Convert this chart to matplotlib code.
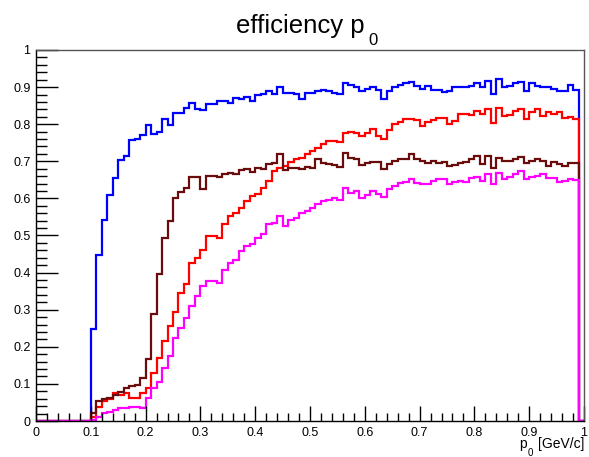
import numpy as np
import matplotlib.pyplot as plt
from matplotlib.ticker import MultipleLocator, FuncFormatter

plt.rcParams['font.family'] = ['Liberation Sans', 'DejaVu Sans']

# bin edges: 100 bins from 0 to 1
n_bins = 100
edges = np.linspace(0.0, 1.0, n_bins + 1)

# efficiency per bin (bins 0..9 are empty)
eff_blue = [0.0] * 10 + [
    0.249, 0.447, 0.543, 0.609, 0.654, 0.703, 0.715, 0.757, 0.759, 0.771,
    0.798, 0.773, 0.780, 0.813, 0.798, 0.829, 0.831, 0.845, 0.856, 0.841,
    0.838, 0.854, 0.854, 0.863, 0.863, 0.856, 0.870, 0.868, 0.874, 0.863,
    0.879, 0.881, 0.890, 0.881, 0.899, 0.883, 0.885, 0.881, 0.868, 0.883,
    0.885, 0.890, 0.892, 0.890, 0.883, 0.881, 0.910, 0.906, 0.899, 0.890,
    0.895, 0.901, 0.892, 0.868, 0.890, 0.899, 0.906, 0.910, 0.913, 0.903,
    0.895, 0.903, 0.892, 0.892, 0.886, 0.890, 0.899, 0.901, 0.899, 0.904,
    0.910, 0.901, 0.917, 0.881, 0.922, 0.899, 0.904, 0.910, 0.915, 0.890,
    0.910, 0.904, 0.899, 0.899, 0.895, 0.890, 0.890, 0.906, 0.892, 0.0]

eff_red = [0.0] * 10 + [
    0.012, 0.039, 0.054, 0.059, 0.075, 0.070, 0.075, 0.061, 0.063, 0.075,
    0.088, 0.129, 0.169, 0.216, 0.255, 0.295, 0.345, 0.369, 0.426, 0.440,
    0.462, 0.498, 0.498, 0.494, 0.530, 0.552, 0.561, 0.575, 0.593, 0.606,
    0.611, 0.627, 0.647, 0.674, 0.683, 0.687, 0.699, 0.705, 0.710, 0.719,
    0.728, 0.737, 0.746, 0.755, 0.756, 0.753, 0.777, 0.780, 0.777, 0.768,
    0.777, 0.786, 0.768, 0.759, 0.784, 0.800, 0.805, 0.814, 0.814, 0.811,
    0.796, 0.807, 0.811, 0.816, 0.818, 0.800, 0.808, 0.827, 0.827, 0.825,
    0.836, 0.827, 0.841, 0.802, 0.845, 0.823, 0.825, 0.836, 0.841, 0.814,
    0.832, 0.841, 0.823, 0.832, 0.827, 0.832, 0.816, 0.820, 0.814, 0.0]

eff_brown = [0.0] * 10 + [
    0.022, 0.054, 0.059, 0.063, 0.070, 0.079, 0.088, 0.095, 0.097, 0.115,
    0.167, 0.288, 0.395, 0.494, 0.539, 0.600, 0.617, 0.629, 0.658, 0.658,
    0.626, 0.661, 0.660, 0.658, 0.665, 0.669, 0.666, 0.676, 0.678, 0.672,
    0.683, 0.678, 0.692, 0.696, 0.719, 0.676, 0.681, 0.681, 0.678, 0.684,
    0.681, 0.705, 0.696, 0.693, 0.690, 0.685, 0.723, 0.710, 0.705, 0.690,
    0.696, 0.699, 0.699, 0.678, 0.694, 0.701, 0.705, 0.705, 0.719, 0.705,
    0.701, 0.696, 0.701, 0.696, 0.699, 0.687, 0.691, 0.696, 0.699, 0.705,
    0.714, 0.694, 0.714, 0.683, 0.710, 0.701, 0.701, 0.705, 0.712, 0.696,
    0.701, 0.705, 0.701, 0.687, 0.699, 0.694, 0.687, 0.696, 0.696, 0.0]

eff_magenta = [0.0] * 10 + [
    0.003, 0.012, 0.021, 0.025, 0.030, 0.034, 0.036, 0.039, 0.039, 0.034,
    0.061, 0.088, 0.106, 0.142, 0.174, 0.223, 0.250, 0.277, 0.309, 0.336,
    0.363, 0.378, 0.377, 0.372, 0.408, 0.426, 0.435, 0.458, 0.471, 0.476,
    0.494, 0.503, 0.530, 0.534, 0.552, 0.525, 0.543, 0.548, 0.561, 0.566,
    0.575, 0.584, 0.593, 0.597, 0.602, 0.595, 0.629, 0.615, 0.620, 0.602,
    0.609, 0.620, 0.611, 0.604, 0.624, 0.633, 0.642, 0.645, 0.651, 0.642,
    0.640, 0.640, 0.647, 0.651, 0.651, 0.638, 0.645, 0.647, 0.645, 0.656,
    0.658, 0.647, 0.665, 0.638, 0.669, 0.651, 0.658, 0.665, 0.674, 0.651,
    0.658, 0.660, 0.665, 0.656, 0.656, 0.645, 0.647, 0.651, 0.649, 0.0]

series = [eff_blue, eff_red, eff_brown, eff_magenta]
colors = ['#0000ff', '#ff0000', '#6b0c0c', '#ff00ff']

W, H = 589, 457
fig = plt.figure(figsize=(W / 100, H / 100), dpi=100)
ax = fig.add_axes([36 / W, 36 / H, 548 / W, 371 / H])

for vals, c in zip(series, colors):
    ax.stairs(vals, edges, baseline=0, color=c, linewidth=1.6)

ax.set_xlim(0, 1)
ax.set_ylim(0, 1)

fmt = FuncFormatter(lambda v, p: ('%.1f' % v).rstrip('0').rstrip('.'))
ax.xaxis.set_major_locator(MultipleLocator(0.1))
ax.xaxis.set_minor_locator(MultipleLocator(0.02))
ax.yaxis.set_major_locator(MultipleLocator(0.1))
ax.yaxis.set_minor_locator(MultipleLocator(0.02))
ax.xaxis.set_major_formatter(fmt)
ax.yaxis.set_major_formatter(fmt)

ax.tick_params(axis='x', which='major', direction='in', length=11, width=1, pad=4, labelsize=9)
ax.tick_params(axis='x', which='minor', direction='in', length=5.5, width=1)
ax.tick_params(axis='y', which='major', direction='in', length=16, width=1, pad=4, labelsize=9)
ax.tick_params(axis='y', which='minor', direction='in', length=8, width=1)
ax.tick_params(top=False, right=False, which='both')
for s in ax.spines.values():
    s.set_linewidth(1)
    s.set_color('black')
ax.spines['top'].set_color('#555555')
ax.spines['right'].set_color('#555555')


def px(x, y):
    # pixel position (from top-left) -> figure fraction
    return x / W, 1 - y / H


# title with a ROOT-like lowered subscript
fig.text(*px(236, 33), 'efficiency p', fontsize=18.5, ha='left', va='baseline')
fig.text(*px(368, 45), '0', fontsize=12, ha='left', va='baseline')

# x axis label
fig.text(*px(519, 448), 'p', fontsize=10, ha='left', va='baseline')
fig.text(*px(527.5, 456), '0', fontsize=7, ha='left', va='baseline')
fig.text(*px(584, 448), '[GeV/c]', fontsize=10, ha='right', va='baseline')

fig.savefig('out.png', dpi=100, facecolor='white')
